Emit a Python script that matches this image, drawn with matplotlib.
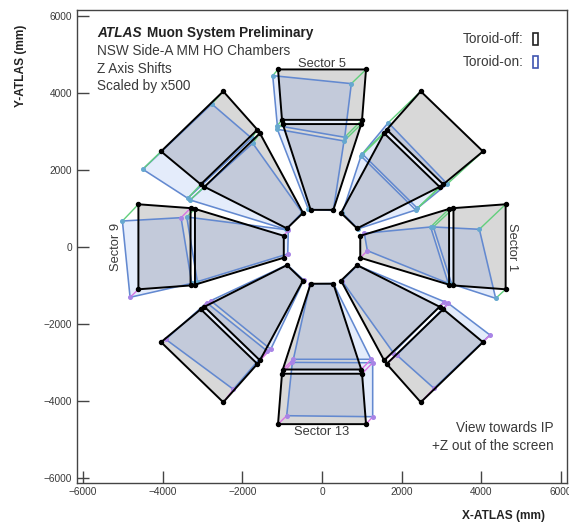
import matplotlib
matplotlib.use("Agg")
import matplotlib.pyplot as plt
from matplotlib.patches import Polygon, Rectangle

plt.rcParams['font.family'] = ['Liberation Sans', 'DejaVu Sans']

# Toroid-off chamber corners (mm), one quad per chamber: two inner corners, then two outer
off_s1 = [[(960, 285), (960, -285), (3190, -985), (3190, 985)],
          [(3300, 1005), (3300, -1005), (4610, -1105), (4610, 1105)]]
off_s3 = [[(880, 477), (477, 880), (1559, 2952), (2952, 1559)],
          [(3044, 1623), (1623, 3044), (2479, 4041), (4041, 2479)]]
off_s5 = [[(285, 960), (-285, 960), (-985, 3190), (985, 3190)],
          [(1005, 3300), (-1005, 3300), (-1105, 4610), (1105, 4610)]]
off_s7 = [[(-477, 880), (-880, 477), (-2952, 1559), (-1559, 2952)],
          [(-1623, 3044), (-3044, 1623), (-4041, 2479), (-2479, 4041)]]
off_s9 = [[(-960, 285), (-960, -285), (-3190, -985), (-3190, 985)],
          [(-3300, 1005), (-3300, -1005), (-4610, -1105), (-4610, 1105)]]
off_s11 = [[(-880, -477), (-477, -880), (-1559, -2952), (-2952, -1559)],
           [(-3044, -1623), (-1623, -3044), (-2479, -4041), (-4041, -2479)]]
off_s13 = [[(285, -960), (-285, -960), (-985, -3190), (985, -3190)],
           [(1005, -3300), (-1005, -3300), (-1105, -4610), (1105, -4610)]]
off_s15 = [[(880, -477), (477, -880), (1559, -2952), (2952, -1559)],
           [(3044, -1623), (1623, -3044), (2479, -4041), (4041, -2479)]]

# Toroid-on corners (mm), same vertex order as above
on_s1 = [[(1062, 350), (1138, -101), (3170, -950), (2727, 515)],
         [(2795, 515), (3255, -967), (4360, -1340), (3950, 455)]]
on_s3 = [[(900, 465), (510, 880), (979, 2361), (2352, 957)],
         [(2392, 1001), (1012, 2413), (1664, 3227), (3145, 1633)]]
on_s5 = [[(284, 945), (-340, 970), (-1122, 3055), (552, 2751)],
         [(570, 2847), (-1122, 3149), (-1238, 4449), (736, 4241)]]
on_s7 = [[(-500, 890), (-900, 450), (-3313, 1217), (-1739, 2691)],
         [(-1765, 2821), (-3371, 1261), (-4500, 2015), (-2768, 3713)]]
on_s9 = [[(-846, 437), (-861, -187), (-3130, -907), (-3396, 775)],
         [(-3539, 757), (-3270, -950), (-4819, -1313), (-5012, 670)]]
on_s11 = [[(-875, -470), (-460, -865), (-1288, -2665), (-2794, -1401)],
          [(-2895, -1453), (-1388, -2701), (-2226, -3705), (-3923, -2405)]]
on_s13 = [[(284, -955), (-300, -965), (-720, -2925), (1230, -2925)],
          [(1272, -3013), (-745, -3004), (-887, -4391), (1272, -4417)]]
on_s15 = [[(885, -485), (500, -885), (1790, -2753), (3070, -1427)],
          [(3170, -1469), (1875, -2813), (2811, -3679), (4217, -2293)]]

# shift sign at each corner: + drawn green, - drawn magenta
signs_s1 = ['-+', '-+', '++', '++']
signs_s3 = ['++', '++', '++', '++']
signs_s5 = ['++', '++', '++', '++']
signs_s7 = ['++', '++', '++', '++']
signs_s9 = ['--', '-+', '+-', '++']
signs_s11 = ['--', '--', '--', '--']
signs_s13 = ['--', '--', '--', '--']
signs_s15 = ['--', '--', '--', '--']

off_chambers = [off_s1, off_s3, off_s5, off_s7, off_s9, off_s11, off_s13, off_s15]
on_chambers = [on_s1, on_s3, on_s5, on_s7, on_s9, on_s11, on_s13, on_s15]
sign_table = [signs_s1, signs_s3, signs_s5, signs_s7, signs_s9, signs_s11, signs_s13, signs_s15]

x_ticks = [-6000, -4000, -2000, 0, 2000, 4000, 6000]
y_ticks = [-6000, -4000, -2000, 0, 2000, 4000, 6000]

text_color = '#3a3a3a'
on_color = '#6389d0'

fig = plt.figure(figsize=(5.69, 5.25), dpi=100)
ax = fig.add_axes([76.5 / 569, 42 / 525, 490.8 / 569, 473.5 / 525])

for off_sector, on_sector, signs in zip(off_chambers, on_chambers, sign_table):
    for c in range(2):
        off_quad = off_sector[c]
        on_quad = on_sector[c]
        ax.add_patch(Polygon(off_quad, closed=True, facecolor=(0.5, 0.5, 0.5, 0.3),
                             edgecolor='none', zorder=1))
        ax.add_patch(Polygon(on_quad, closed=True, facecolor=(0.3, 0.5, 0.9, 0.15),
                             edgecolor=on_color, lw=1.15, zorder=2))
        for v in range(4):
            sign = signs[v][c]
            link = '#62cf7c' if sign == '+' else '#d873e2'
            dot = '#66a8cf' if sign == '+' else '#a884e6'
            ax.plot([off_quad[v][0], on_quad[v][0]], [off_quad[v][1], on_quad[v][1]],
                    color=link, lw=1.0, zorder=3)
            ax.plot(on_quad[v][0], on_quad[v][1], 'o', color=dot, ms=2.6, zorder=4)
        ax.add_patch(Polygon(off_quad, closed=True, facecolor='none',
                             edgecolor='black', lw=1.4, zorder=5))
        xs = [p[0] for p in off_quad]
        ys = [p[1] for p in off_quad]
        ax.plot(xs, ys, 'o', color='black', ms=2.9, zorder=6)

ax.set_xlim(-6164, 6158)
ax.set_ylim(-6140, 6168)
ax.set_xticks(x_ticks)
ax.set_yticks(y_ticks)
ax.tick_params(direction='in', length=8.6, width=1, color='#444444', labelcolor=text_color,
               labelsize=7.3, pad=3)
for spine in ax.spines.values():
    spine.set_color('#444444')
    spine.set_linewidth(1)

# header block
ax.text(-5650, 5560, 'ATLAS', fontsize=9.8, fontweight='bold', fontstyle='italic',
        color='#222222', va='center')
ax.text(-4400, 5560, 'Muon System Preliminary', fontsize=9.8, fontweight='bold',
        color='#222222', va='center')
ax.text(-5650, 5090, 'NSW Side-A MM HO Chambers', fontsize=9.8, color=text_color, va='center')
ax.text(-5650, 4630, 'Z Axis Shifts', fontsize=9.8, color=text_color, va='center')
ax.text(-5650, 4190, 'Scaled by x500', fontsize=9.8, color=text_color, va='center')

# legend
ax.text(5050, 5405, 'Toroid-off:', fontsize=9.8, color=text_color, ha='right', va='center')
ax.text(5050, 4800, 'Toroid-on:', fontsize=9.8, color=text_color, ha='right', va='center')
ax.add_patch(Rectangle((5290, 5245), 140, 320, facecolor='none', edgecolor='#222222', lw=1.2))
ax.add_patch(Rectangle((5290, 4640), 140, 320, facecolor='none', edgecolor='#3f55b0', lw=1.2))

# sector names
ax.text(0, 4760, 'Sector 5', fontsize=9.3, color=text_color, ha='center', va='center')
ax.text(0, -4807, 'Sector 13', fontsize=9.3, color=text_color, ha='center', va='center')
ax.text(4760, 0, 'Sector 1', fontsize=9.3, color=text_color, ha='center', va='center', rotation=270)
ax.text(-5170, 0, 'Sector 9', fontsize=9.3, color=text_color, ha='center', va='center', rotation=90)

ax.text(5810, -4700, 'View towards IP', fontsize=9.8, color=text_color, ha='right', va='center')
ax.text(5810, -5180, '+Z out of the screen', fontsize=9.8, color=text_color, ha='right', va='center')

fig.text(545 / 569, 1 - 516 / 525, 'X-ATLAS (mm)', fontsize=8.6, fontweight='bold',
         color='#222222', ha='right', va='center')
fig.text(21 / 569, 1 - 66 / 525, 'Y-ATLAS (mm)', fontsize=8.6, fontweight='bold',
         color='#222222', ha='center', va='center', rotation=90)

fig.savefig('out.png', dpi=100)
